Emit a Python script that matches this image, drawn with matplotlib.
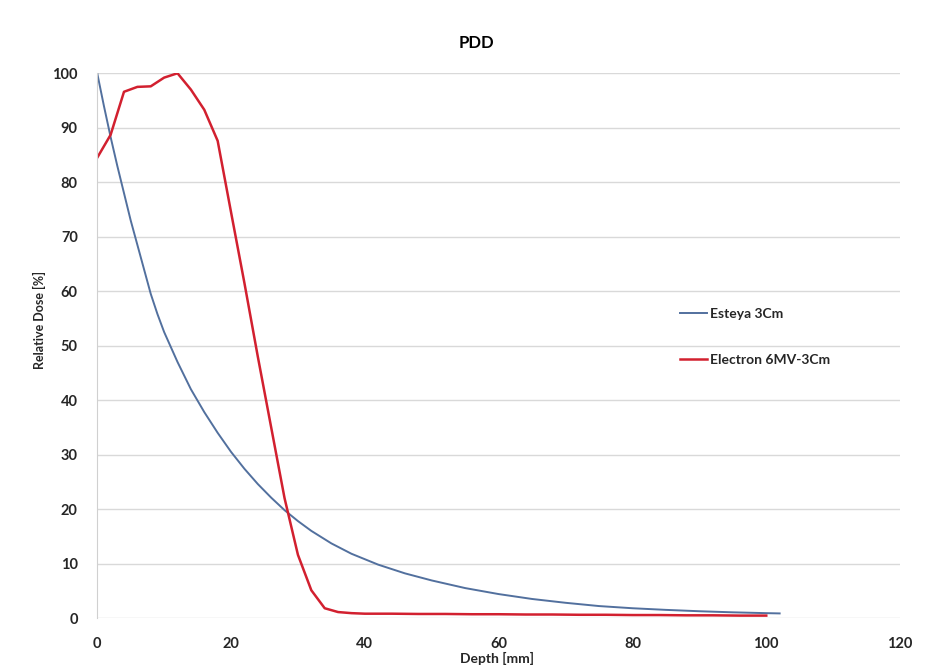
import matplotlib
matplotlib.use("Agg")
import matplotlib.pyplot as plt

plt.rcParams['font.family'] = ['Lato', 'DejaVu Sans']

# Esteya 3Cm (blue)
esteya_depth = [0, 1, 2, 3, 4, 5, 6, 7, 8, 9, 10, 12, 14, 16, 18, 20, 22, 24, 26, 28,
                30, 32, 35, 38, 42, 46, 50, 55, 60, 65, 70, 75, 80, 85, 90, 95, 100, 102]
esteya_dose = [100, 94, 88.3, 83, 78, 73, 68.5, 64, 59.5, 55.8, 52.5, 47, 42, 37.8, 34, 30.5,
               27.4, 24.6, 22.1, 19.8, 17.8, 16, 13.7, 11.8, 9.8, 8.2, 6.9, 5.5, 4.4, 3.5,
               2.8, 2.2, 1.8, 1.5, 1.25, 1.05, 0.9, 0.85]

# Electron 6MV-3Cm (red)
electron_depth = [0, 2, 4, 6, 8, 10, 12, 14, 16, 18, 20, 22, 24, 26, 28, 30, 32, 34, 36, 38,
                  40, 44, 48, 52, 56, 60, 64, 68, 72, 76, 80, 84, 88, 92, 96, 100]
electron_dose = [84.5, 88.7, 96.6, 97.5, 97.6, 99.2, 100, 97, 93.3, 87.6, 74.5, 61.5, 48, 35,
                 22, 11.6, 5.1, 1.8, 1.1, 0.9, 0.8, 0.8, 0.75, 0.75, 0.7, 0.7, 0.65, 0.65,
                 0.6, 0.6, 0.55, 0.55, 0.5, 0.5, 0.45, 0.45]

x_ticks = [0, 20, 40, 60, 80, 100, 120]
y_ticks = list(range(0, 101, 10))

fig = plt.figure(figsize=(9.26, 6.66), dpi=100)
ax = fig.add_axes([0.105, 0.072, 0.867, 0.818])

ax.plot(esteya_depth, esteya_dose, color='#52709e', lw=1.4, label='Esteya 3Cm')
ax.plot(electron_depth, electron_dose, color='#d2202f', lw=1.8, label='Electron 6MV-3Cm')

ax.set_xlim(0, 120)
ax.set_ylim(0, 100)
ax.set_xticks(x_ticks)
ax.set_yticks(y_ticks)
ax.grid(axis='y', color='#d9d9d9', lw=1)
ax.set_axisbelow(True)
for s in ['top', 'right', 'bottom']:
    ax.spines[s].set_visible(False)
ax.spines['left'].set_color('#d0d0d0')
ax.tick_params(axis='both', length=0, labelsize=10.5, colors='#262626')
ax.tick_params(axis='x', pad=14)
ax.tick_params(axis='y', pad=14)
for lbl in ax.get_xticklabels() + ax.get_yticklabels():
    lbl.set_fontweight('bold')

fig.text(0.515, 0.935, 'PDD', ha='center', va='center', fontsize=12, fontweight='bold')
fig.text(0.043, 0.52, 'Relative Dose [%]', ha='center', va='center', rotation=90,
         fontsize=9, fontweight='bold', color='#262626')
fig.text(0.537, 0.002, 'Depth [mm]', ha='center', va='bottom', fontsize=10,
         fontweight='bold', color='#262626')

leg = ax.legend(loc='upper left', bbox_to_anchor=(0.734, 0.537), bbox_transform=fig.transFigure,
                frameon=False, borderpad=0, borderaxespad=0, labelspacing=2.4,
                handlelength=2.0, handletextpad=0.2, fontsize=10)
for t in leg.get_texts():
    t.set_fontweight('bold')
    t.set_color('#262626')

fig.savefig('out.png', dpi=100)
